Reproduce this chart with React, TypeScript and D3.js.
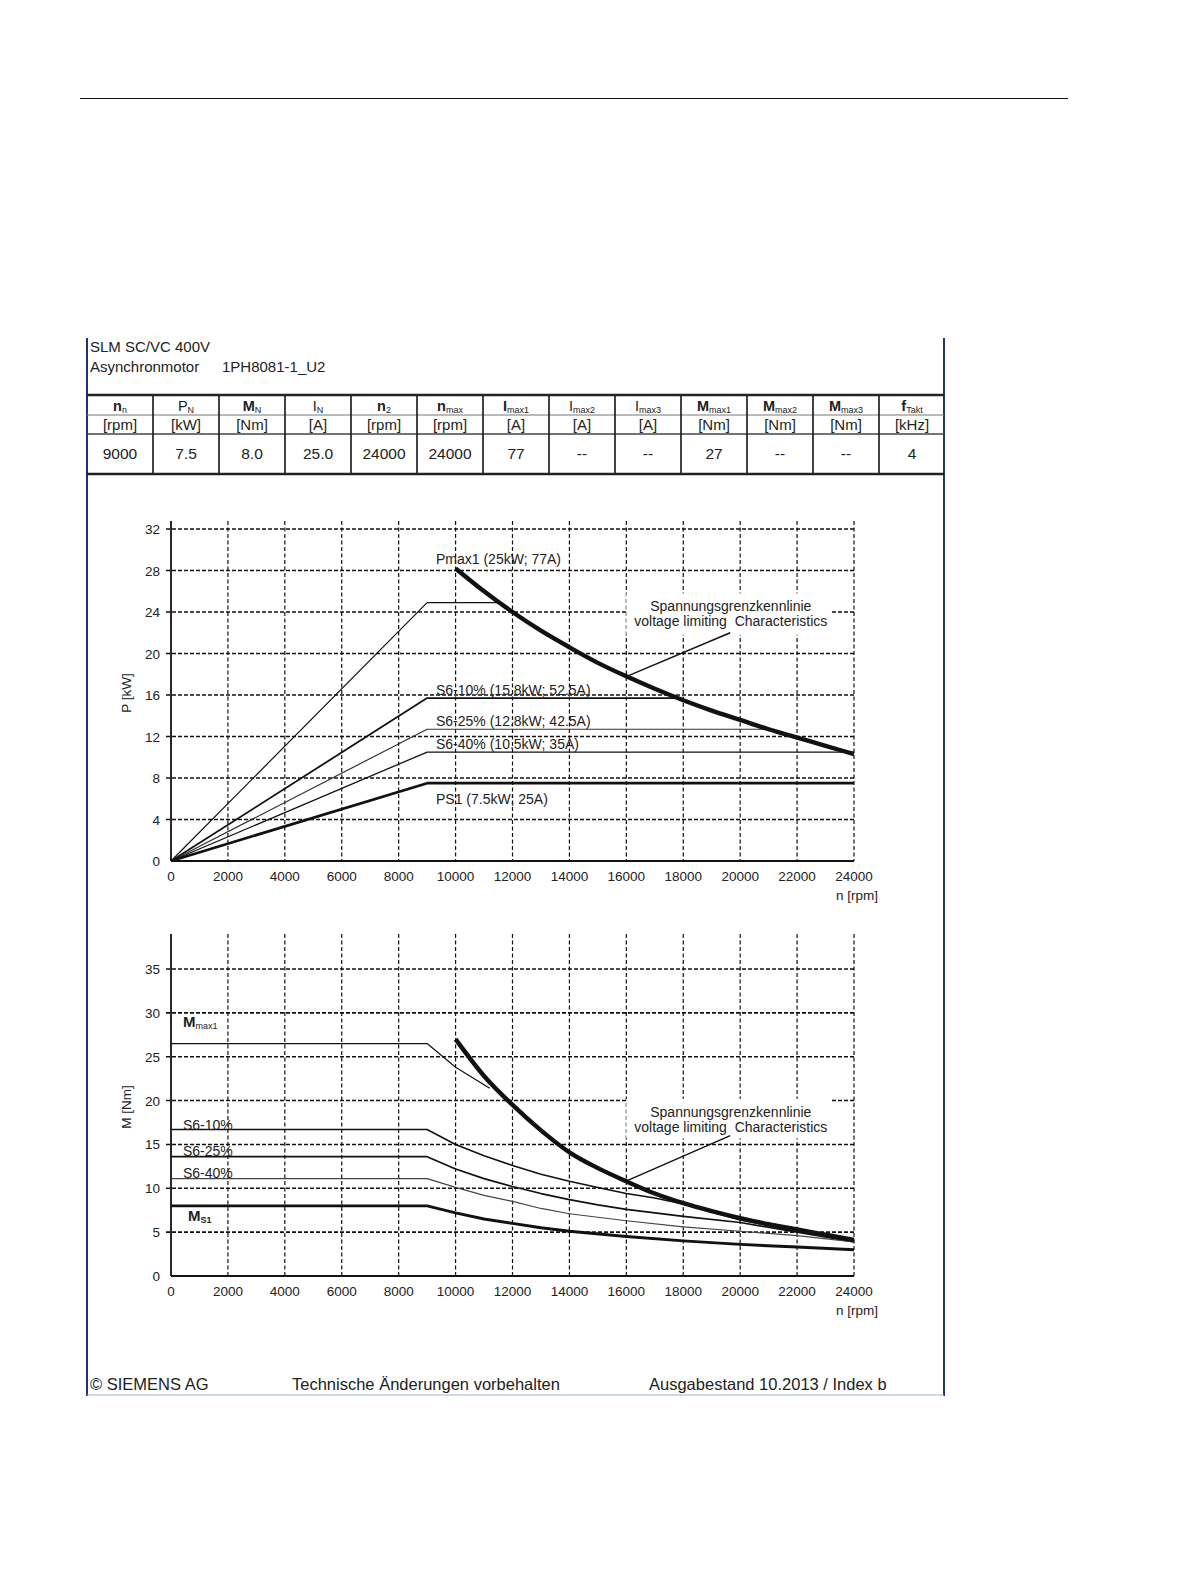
import React from 'react';
import * as d3 from 'd3';

// ---- data ----
const speedTicks = [0, 2000, 4000, 6000, 8000, 10000, 12000, 14000, 16000, 18000, 20000, 22000, 24000];
const powerTicks = [0, 4, 8, 12, 16, 20, 24, 28, 32];
const torqueTicks = [0, 5, 10, 15, 20, 25, 30, 35];

const tableNames = ['n', 'P', 'M', 'I', 'n', 'n', 'I', 'I', 'I', 'M', 'M', 'M', 'f'];
const tableSubs = ['n', 'N', 'N', 'N', '2', 'max', 'max1', 'max2', 'max3', 'max1', 'max2', 'max3', 'Takt'];
const tableBold = [true, false, true, false, true, true, true, false, false, true, true, true, true];
const tableUnits = ['[rpm]', '[kW]', '[Nm]', '[A]', '[rpm]', '[rpm]', '[A]', '[A]', '[A]', '[Nm]', '[Nm]', '[Nm]', '[kHz]'];
const tableValues = ['9000', '7.5', '8.0', '25.0', '24000', '24000', '77', '--', '--', '27', '--', '--', '4'];

// P(n) chart
const pMax1Speed = [0, 9000, 11500];
const pMax1Power = [0, 24.9, 24.9];
const pS610Speed = [0, 9000, 17800];
const pS610Power = [0, 15.7, 15.7];
const pS625Speed = [0, 9000, 21000];
const pS625Power = [0, 12.7, 12.7];
const pS640Speed = [0, 9000, 24000];
const pS640Power = [0, 10.5, 10.5];
const pS1Speed = [0, 9000, 24000];
const pS1Power = [0, 7.5, 7.5];
const pLimitSpeed = [10000, 11000, 12000, 13000, 14000, 15000, 16000, 17000, 18000, 19000, 20000, 21000, 22000, 23000, 24000];
const pLimitPower = [28.2, 26.0, 24.0, 22.2, 20.6, 19.1, 17.8, 16.6, 15.5, 14.5, 13.6, 12.7, 11.9, 11.1, 10.3];

// M(n) chart
const mMax1Speed = [0, 9000, 10000, 11200];
const mMax1Torque = [26.5, 26.5, 23.8, 21.4];
const mS610Speed = [0, 9000, 10000, 11000, 12000, 13000, 14000, 15000, 16000, 17000, 18000, 19000, 20000, 22000, 24000];
const mS610Torque = [16.7, 16.7, 15.0, 13.7, 12.6, 11.6, 10.8, 10.1, 9.4, 8.9, 8.2, 7.3, 6.4, 5.1, 4.0];
const mS625Speed = [0, 9000, 10000, 11000, 12000, 13000, 14000, 15000, 16000, 18000, 20000, 22000, 24000];
const mS625Torque = [13.6, 13.6, 12.2, 11.1, 10.2, 9.4, 8.7, 8.1, 7.6, 6.8, 6.1, 5.0, 3.9];
const mS640Speed = [0, 9000, 10000, 11000, 12000, 13000, 14000, 15000, 16000, 18000, 20000, 22000, 24000];
const mS640Torque = [11.1, 11.1, 10.1, 9.2, 8.5, 7.7, 7.1, 6.7, 6.3, 5.6, 5.1, 4.6, 3.9];
const mS1Speed = [0, 9000, 10000, 11000, 12000, 13000, 14000, 16000, 18000, 20000, 22000, 24000];
const mS1Torque = [8.0, 8.0, 7.2, 6.5, 6.0, 5.5, 5.1, 4.5, 4.0, 3.6, 3.3, 3.0];
const mLimitSpeed = [10000, 11000, 12000, 13000, 14000, 15000, 16000, 17000, 18000, 19000, 20000, 21000, 22000, 23000, 24000];
const mLimitTorque = [27.0, 22.8, 19.5, 16.6, 14.1, 12.3, 10.8, 9.4, 8.3, 7.4, 6.6, 5.9, 5.3, 4.7, 4.1];

const FONT = "'Liberation Sans', Arial, sans-serif";

const zip = (xs: number[], ys: number[]) => xs.map((x, i) => [x, ys[i]] as [number, number]);

type Series = { xs: number[]; ys: number[]; width: number; color?: string; smooth?: boolean };

const Chart: React.FC<{
  y: d3.ScaleLinear<number, number>;
  top: number;
  ticks: number[];
  series: Series[];
  box: [number, number, number, number];
  leader: [number, number][];
  axisLabel: string;
  children?: React.ReactNode;
}> = ({ y, top, ticks, series, box, leader, axisLabel, children }) => {
  const x = d3.scaleLinear().domain([0, 24000]).range([171, 854]);
  const y0 = y(0);
  const mk = (s: Series) =>
    d3
      .line<[number, number]>()
      .x(d => x(d[0]))
      .y(d => y(d[1]))
      .curve(s.smooth ? d3.curveMonotoneX : d3.curveLinear)(zip(s.xs, s.ys)) || '';
  const [bx0, bx1, by0, by1] = box;
  const midX = (x(bx0) + x(bx1)) / 2 + 2;
  return (
    <g fontFamily={FONT}>
      {/* grid */}
      {speedTicks.slice(1).map(t => (
        <line key={'v' + t} x1={x(t)} x2={x(t)} y1={top} y2={y0} stroke="#111" strokeWidth={1.2} strokeDasharray="4,2.5" />
      ))}
      {ticks.slice(1).map(t => (
        <line key={'h' + t} x1={166} x2={x(24000)} y1={y(t)} y2={y(t)} stroke="#111" strokeWidth={1.6} strokeDasharray="4,2" />
      ))}
      <line x1={171} x2={171} y1={top} y2={y0} stroke="#111" strokeWidth={1.8} />
      <line x1={171} x2={x(24000)} y1={y0} y2={y0} stroke="#111" strokeWidth={1.8} />
      {/* annotation box hides grid */}
      <rect x={x(bx0)} y={y(by1)} width={x(bx1) - x(bx0)} height={y(by0) - y(by1)} fill="#fff" />
      {/* curves */}
      {series.map((s, i) => (
        <path key={i} d={mk(s)} fill="none" stroke={s.color || '#111'} strokeWidth={s.width} strokeLinejoin="round" />
      ))}
      <line x1={x(leader[0][0])} y1={y(leader[0][1])} x2={x(leader[1][0])} y2={y(leader[1][1])} stroke="#111" strokeWidth={1.4} />
      <text x={midX} y={y(by1) + 18} fontSize={14} textAnchor="middle" fill="#222">Spannungsgrenzkennlinie</text>
      <text x={midX} y={y(by1) + 33} fontSize={14} textAnchor="middle" fill="#222" xmlSpace="preserve">voltage limiting  Characteristics</text>
      {/* ticks */}
      {speedTicks.map(t => (
        <text key={'xl' + t} x={x(t)} y={y0 + 20} fontSize={13.5} textAnchor="middle" fill="#222">{t}</text>
      ))}
      {ticks.map(t => (
        <text key={'yl' + t} x={160} y={y(t) + 5} fontSize={13.5} textAnchor="end" fill="#222">{t}</text>
      ))}
      <text x={857} y={y0 + 39} fontSize={13.5} textAnchor="middle" fill="#222">n [rpm]</text>
      <text transform={`translate(131,${(top + y0) / 2 + 2}) rotate(-90)`} fontSize={13.5} textAnchor="middle" fill="#222">{axisLabel}</text>
      {children}
    </g>
  );
};

export default function App() {
  const yP = d3.scaleLinear().domain([0, 32]).range([861, 529]);
  const yM = d3.scaleLinear().domain([0, 35]).range([1276, 969]);
  const cols = d3.range(14).map(i => 87 + i * 66);

  const pSeries: Series[] = [
    { xs: pMax1Speed, ys: pMax1Power, width: 1.2 },
    { xs: pS610Speed, ys: pS610Power, width: 1.8 },
    { xs: pS625Speed, ys: pS625Power, width: 1.2, color: '#333' },
    { xs: pS640Speed, ys: pS640Power, width: 1.3 },
    { xs: pS1Speed, ys: pS1Power, width: 2.7 },
    { xs: pLimitSpeed, ys: pLimitPower, width: 4.4, smooth: true },
  ];
  const mSeries: Series[] = [
    { xs: mMax1Speed, ys: mMax1Torque, width: 1.2 },
    { xs: mS610Speed, ys: mS610Torque, width: 1.6 },
    { xs: mS625Speed, ys: mS625Torque, width: 1.7 },
    { xs: mS640Speed, ys: mS640Torque, width: 1.2, color: '#444' },
    { xs: mS1Speed, ys: mS1Torque, width: 2.9 },
    { xs: mLimitSpeed, ys: mLimitTorque, width: 4.4, smooth: true },
  ];

  return (
    <svg width={1191} height={1587} style={{ position: 'absolute', left: 0, top: 0, background: '#fff' }} fontFamily={FONT}>
      <rect width={1191} height={1587} fill="#fff" />
      <line x1={80} x2={1068} y1={98.5} y2={98.5} stroke="#111" strokeWidth={1} />

      {/* frame */}
      <line x1={87} x2={87} y1={338} y2={1396} stroke="#1d3570" strokeWidth={2} />
      <line x1={944} x2={944} y1={338} y2={1396} stroke="#1d3570" strokeWidth={2} />
      <line x1={87} x2={944} y1={1395} y2={1395} stroke="#9fb4d8" strokeWidth={1.2} />

      <text x={90} y={352} fontSize={15} fill="#222">SLM SC/VC 400V</text>
      <text x={90} y={372} fontSize={15} fill="#222">Asynchronmotor</text>
      <text x={222} y={372} fontSize={15} fill="#222">1PH8081-1_U2</text>

      {/* spec table */}
      <line x1={87} x2={944} y1={395} y2={395} stroke="#222" strokeWidth={2.4} />
      <line x1={87} x2={944} y1={415} y2={415} stroke="#777" strokeWidth={1} />
      <line x1={87} x2={944} y1={434} y2={434} stroke="#444" strokeWidth={1.3} />
      <line x1={87} x2={944} y1={474} y2={474} stroke="#222" strokeWidth={2.4} />
      {cols.slice(1, 13).map(cx => (
        <line key={cx} x1={cx} x2={cx} y1={395} y2={474} stroke="#222" strokeWidth={1.7} />
      ))}
      {tableNames.map((nm, i) => {
        const cx = cols[i] + 33;
        return (
          <g key={i} fill="#222">
            <text x={cx} y={411} fontSize={14.5} textAnchor="middle">
              <tspan fontWeight={tableBold[i] ? 'bold' : 'normal'}>{nm}</tspan>
              <tspan fontSize={9} dy={2}>{tableSubs[i]}</tspan>
            </text>
            <text x={cx} y={430} fontSize={15} textAnchor="middle">{tableUnits[i]}</text>
            <text x={cx} y={459} fontSize={15.5} textAnchor="middle">{tableValues[i]}</text>
          </g>
        );
      })}

      <Chart
        y={yP}
        top={521}
        ticks={powerTicks}
        series={pSeries}
        box={[16000, 23200, 21.8, 25.8]}
        leader={[[16100, 17.9], [19650, 22.0]]}
        axisLabel="P [kW]"
      >
        <g fontSize={14} fill="#222">
          <text x={436} y={564}>Pmax1 (25kW; 77A)</text>
          <text x={436} y={695}>S6-10% (15.8kW; 52.5A)</text>
          <text x={436} y={726}>S6-25% (12.8kW; 42.5A)</text>
          <text x={436} y={749}>S6-40% (10.5kW; 35A)</text>
          <text x={436} y={804}>PS1 (7.5kW; 25A)</text>
        </g>
      </Chart>

      <Chart
        y={yM}
        top={934}
        ticks={torqueTicks}
        series={mSeries}
        box={[16000, 23200, 15.7, 20.2]}
        leader={[[16050, 10.9], [19650, 16.0]]}
        axisLabel="M [Nm]"
      >
        <g fontSize={14} fill="#222">
          <text x={183} y={1027}>
            <tspan fontWeight="bold" fontSize={15}>M</tspan>
            <tspan fontSize={9} dy={2}>max1</tspan>
          </text>
          <text x={183} y={1130}>S6-10%</text>
          <text x={183} y={1156}>S6-25%</text>
          <text x={183} y={1178}>S6-40%</text>
          <text x={188} y={1221}>
            <tspan fontWeight="bold" fontSize={15}>M</tspan>
            <tspan fontSize={9} fontWeight="bold" dy={2}>S1</tspan>
          </text>
        </g>
      </Chart>

      <g fontSize={16.5} fill="#222">
        <text x={90} y={1390}>© SIEMENS AG</text>
        <text x={292} y={1390}>Technische Änderungen vorbehalten</text>
        <text x={649} y={1390}>Ausgabestand 10.2013 / Index b</text>
      </g>
    </svg>
  );
}
